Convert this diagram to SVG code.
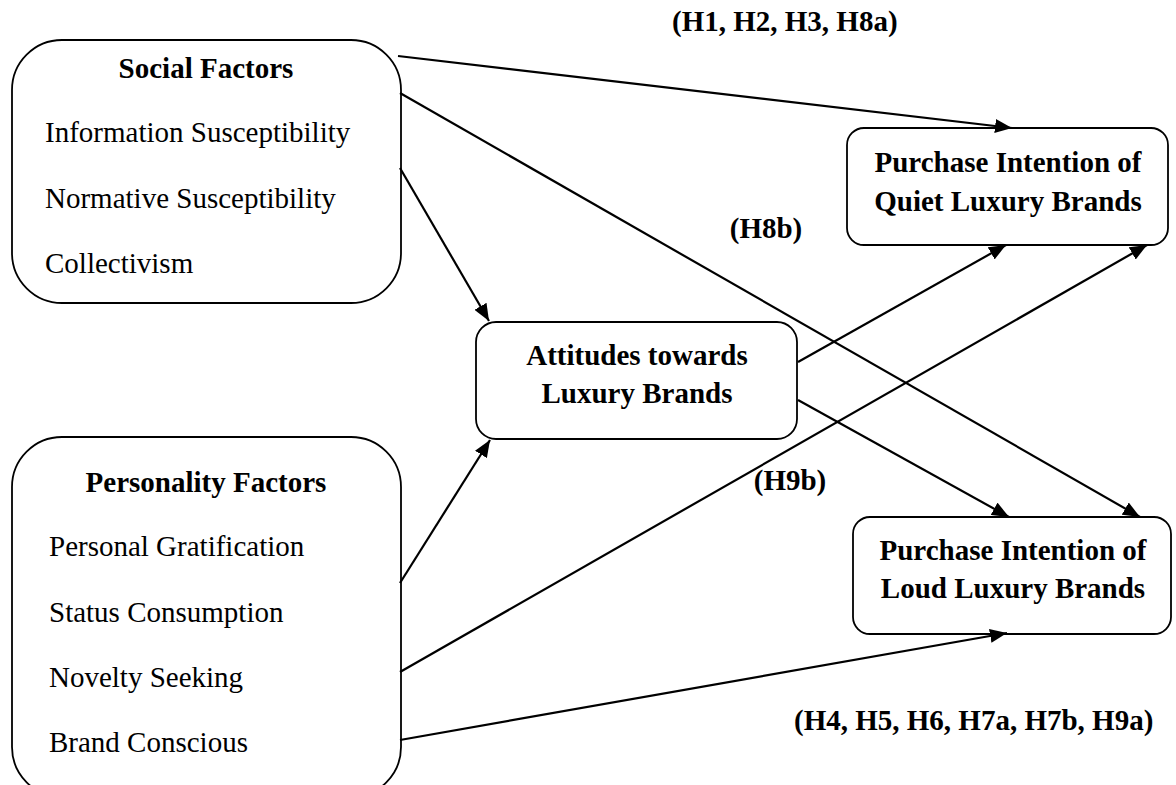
<svg xmlns="http://www.w3.org/2000/svg" width="1176" height="785" viewBox="0 0 1176 785">
<style>
.box{fill:#fff;stroke:#000;stroke-width:1.8}
.t{font-family:"Liberation Serif","Times New Roman",serif;font-size:29px;fill:#000}
.b{font-weight:bold}
.c{text-anchor:middle}
.ln{stroke:#000;stroke-width:2.2;fill:none;marker-end:url(#ah)}
</style>
<defs>
<marker id="ah" markerUnits="userSpaceOnUse" markerWidth="18" markerHeight="14" refX="17" refY="7" orient="auto">
<path d="M0,0 L17,7 L0,14 z" fill="#000"/>
</marker>
</defs>
<rect width="1176" height="785" fill="#fff"/>
<g id="social">
<rect class="box" x="12" y="40" width="389" height="263" rx="50" ry="50"/>
<text class="t b c" x="206" y="78">Social Factors</text>
<text class="t" x="45" y="142">Information Susceptibility</text>
<text class="t" x="45" y="208">Normative Susceptibility</text>
<text class="t" x="45" y="273">Collectivism</text>
</g>
<g id="personality">
<rect class="box" x="12" y="437" width="389" height="360" rx="50" ry="50"/>
<text class="t b c" x="206" y="492">Personality Factors</text>
<text class="t" x="49" y="556">Personal Gratification</text>
<text class="t" x="49" y="622">Status Consumption</text>
<text class="t" x="49" y="687">Novelty Seeking</text>
<text class="t" x="49" y="752">Brand Conscious</text>
</g>
<g id="attitudes">
<rect class="box" x="476" y="322" width="321" height="117" rx="20" ry="20"/>
<text class="t b c" x="637" y="365">Attitudes towards</text>
<text class="t b c" x="637" y="403">Luxury Brands</text>
</g>
<g id="quiet">
<rect class="box" x="847" y="128" width="321" height="117" rx="17" ry="17"/>
<text class="t b c" x="1008" y="172">Purchase Intention of</text>
<text class="t b c" x="1008" y="211">Quiet Luxury Brands</text>
</g>
<g id="loud">
<rect class="box" x="853" y="517" width="318" height="117" rx="17" ry="17"/>
<text class="t b c" x="1013" y="560">Purchase Intention of</text>
<text class="t b c" x="1013" y="598">Loud Luxury Brands</text>
</g>
<g id="connectors">
<line class="ln" x1="398" y1="56" x2="1012" y2="128"/>
<line class="ln" x1="400" y1="93" x2="1140" y2="517"/>
<line class="ln" x1="400" y1="168" x2="489" y2="321"/>
<line class="ln" x1="400" y1="583" x2="490" y2="440"/>
<line class="ln" x1="400" y1="672" x2="1147" y2="245"/>
<line class="ln" x1="400" y1="740" x2="1007" y2="633"/>
<line class="ln" x1="798" y1="362" x2="1006" y2="245"/>
<line class="ln" x1="798" y1="400" x2="1009" y2="517"/>
</g>
<g id="labels">
<text class="t b" x="672" y="31">(H1, H2, H3, H8a)</text>
<text class="t b c" x="766" y="238">(H8b)</text>
<text class="t b c" x="790" y="490">(H9b)</text>
<text class="t b" x="794" y="730">(H4, H5, H6, H7a, H7b, H9a)</text>
</g>
</svg>
